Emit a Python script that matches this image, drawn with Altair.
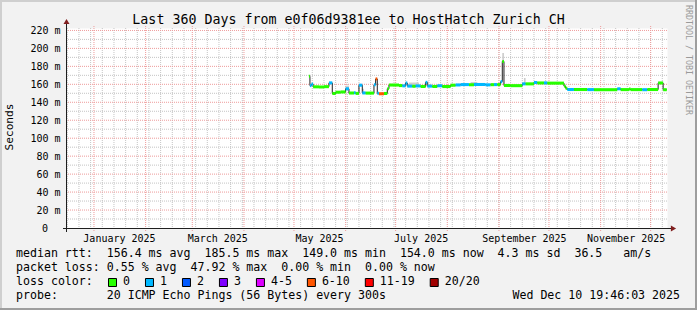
import altair as alt
import pandas as pd

# ---------------- data ----------------
seg_start = [
    "2025-05-10 00:00", "2025-05-10 14:00", "2025-05-11 12:00", "2025-05-12 12:00",
    "2025-05-16 00:00", "2025-05-19 00:00", "2025-05-22 00:00", "2025-05-24 00:00",
    "2025-05-26 00:00", "2025-05-29 00:00", "2025-06-01 00:00", "2025-06-03 00:00",
    "2025-06-06 00:00", "2025-06-07 00:00", "2025-06-09 00:00", "2025-06-11 00:00",
    "2025-06-13 00:00", "2025-06-18 00:00", "2025-06-19 00:00", "2025-06-20 00:00",
    "2025-06-21 00:00", "2025-06-24 00:00", "2025-06-26 00:00", "2025-06-27 00:00",
    "2025-07-03 00:00", "2025-07-05 00:00", "2025-07-07 00:00", "2025-07-08 00:00",
    "2025-07-11 00:00", "2025-07-13 00:00", "2025-07-16 00:00", "2025-07-19 00:00",
    "2025-07-20 00:00", "2025-07-23 00:00", "2025-07-26 00:00", "2025-07-29 00:00",
    "2025-08-03 00:00", "2025-08-06 00:00", "2025-08-09 00:00", "2025-08-14 00:00",
    "2025-08-17 00:00", "2025-08-24 00:00", "2025-08-27 00:00", "2025-08-29 00:00",
    "2025-08-31 00:00", "2025-09-02 00:00", "2025-09-03 00:00", "2025-09-04 00:00",
    "2025-09-08 00:00", "2025-09-15 00:00", "2025-09-17 00:00", "2025-09-22 00:00",
    "2025-09-24 00:00", "2025-09-28 00:00", "2025-09-30 00:00", "2025-10-10 00:00",
    "2025-10-11 00:00", "2025-10-12 00:00", "2025-10-16 00:00", "2025-10-24 00:00",
    "2025-10-28 00:00", "2025-11-11 00:00", "2025-11-13 00:00", "2025-11-18 00:00",
    "2025-11-19 00:00", "2025-11-26 00:00", "2025-11-29 00:00", "2025-12-05 12:00",
    "2025-12-08 12:00",
]
seg_median = [
    169.0, 158.6, 160.2, 157.2,
    157.0, 157.4, 161.6, 149.8,
    151.2, 151.5, 155.0, 150.3,
    150.6, 149.9, 159.0, 150.4,
    150.2, 159.5, 166.0, 150.0,
    149.5, 149.8, 155.0, 159.2,
    158.6, 158.3, 161.5, 158.0,
    157.8, 158.2, 157.6, 162.2,
    158.0, 157.6, 158.4, 157.5,
    159.0, 159.3, 159.7, 159.5,
    159.8, 159.4, 159.6, 159.7,
    159.7, 163.0, 185.5, 158.7,
    158.5, 160.5, 160.5, 162.0,
    161.5, 161.6, 161.3, 158.0,
    155.6, 154.2, 154.2, 154.1,
    154.0, 155.0, 154.1, 154.7,
    154.1, 154.0, 154.2, 161.5,
    154.0,
]
seg_loss = [
    "0", "1", "1", "0",
    "0", "0", "1", "0",
    "0", "0", "1", "0",
    "1", "0", "1", "1",
    "0", "1", "6-10", "1",
    "6-10", "0", "0", "0",
    "0", "1", "1", "1",
    "0", "1", "0", "1",
    "1", "0", "1", "0",
    "0", "1", "1", "0",
    "1", "1", "0", "1",
    "0", "1", "0", "0",
    "0", "1", "0", "1",
    "0", "1", "0", "0",
    "0", "1", "0", "1",
    "0", "1", "0", "0",
    "0", "1", "0", "0",
    "0",
]
series_end = "2025-12-10 17:00"

smoke_start = ["2025-06-01", "2025-06-11", "2025-07-09", "2025-07-19", "2025-08-15", "2025-09-03", "2025-09-16"]
smoke_end = ["2025-06-03", "2025-06-12", "2025-07-15", "2025-07-21", "2025-08-19", "2025-09-04", "2025-09-17"]
smoke_low = [155.0, 150.4, 158.0, 160.0, 159.8, 185.5, 160.5]
smoke_high = [158.5, 155.0, 162.0, 163.0, 162.5, 195.0, 167.0]

loss_labels = ["0", "1", "2", "3", "4-5", "6-10", "11-19", "20/20"]
loss_colors = ["#26ff00", "#00b8ff", "#0059ff", "#7e00ff", "#dd00ff", "#ff5500", "#ff0000", "#a10000"]

y_label_values = [20, 40, 60, 80, 100, 120, 140, 160, 180, 200, 220]
zero_label = "0"
y_major = [20, 40, 60, 80, 100, 120, 140, 160, 180, 200, 220]
y_minor = [10, 30, 50, 70, 90, 110, 130, 150, 170, 190, 210]
month_lines = ["2025-01-01", "2025-02-01", "2025-03-01", "2025-04-01", "2025-05-01", "2025-06-01",
               "2025-07-01", "2025-08-01", "2025-09-01", "2025-10-01", "2025-11-01", "2025-12-01"]
label_dates = ["2025-01-16", "2025-03-16", "2025-05-16", "2025-07-16", "2025-09-16", "2025-11-16"]
range_start = "2024-12-15 19:46:03"
range_end = "2025-12-10 19:46:03"

title_text = "Last 360 Days from e0f06d9381ee to HostHatch Zurich CH"
stats_rtt = "median rtt:  156.4 ms avg  185.5 ms max  149.0 ms min  154.0 ms now  4.3 ms sd  36.5   am/s"
stats_loss = "packet loss: 0.55 % avg  47.92 % max  0.00 % min  0.00 % now"
loss_title = "loss color:"
probe_text = "probe:       20 ICMP Echo Pings (56 Bytes) every 300s"
stamp_text = "Wed Dec 10 19:46:03 2025"
unit_text = "Seconds"
watermark = "RRDTOOL / TOBI OETIKER"

# ---------------- layout ----------------
W, H = 600, 200
OX, OY = 67, 28
MONO = "DejaVu Sans Mono"
NB = "\u00a0"


def ms(s):
    return int(pd.Timestamp(s).value // 1_000_000)


xs = alt.Scale(domain=[ms(range_start), ms(range_end)], nice=False, zero=False)
ys = alt.Scale(domain=[0, 222.7], nice=False, zero=False)

x_axis = alt.Axis(values=[ms(d) for d in label_dates], labelExpr="utcFormat(datum.value, '%B %Y')",
                  ticks=False, tickSize=0, domain=False, grid=False, labelFont=MONO, labelFontSize=10,
                  labelColor="#000000", labelPadding=5, labelOverlap=False, labelFlush=False, title=None)
y_axis = alt.Axis(values=y_label_values, labelExpr="datum.value + ' m'",
                  ticks=False, tickSize=0, domain=False, grid=False, labelFont=MONO, labelFontSize=10,
                  labelColor="#000000", labelPadding=7, labelOverlap=False, labelFlush=False, title=None)


def X(f):
    return alt.X(f, scale=xs, axis=x_axis)


def Y(f):
    return alt.Y(f, scale=ys, axis=y_axis)


def ptext(txt, x, y, size=11.6, align="left", angle=0, color="#000000"):
    return alt.Chart(pd.DataFrame({"s": [txt.replace(" ", NB)]})).mark_text(
        font=MONO, fontSize=size, align=align, baseline="middle", angle=angle, color=color
    ).encode(text="s:N", x=alt.value(x - OX), y=alt.value(y - OY))


def prect(x1, x2, y1, y2, color, stroke=None):
    kw = dict(color=color)
    if stroke:
        kw.update(stroke=stroke, strokeWidth=1)
    return alt.Chart(pd.DataFrame({"k": [0]})).mark_rect(**kw).encode(
        x=alt.value(x1 - OX), x2=alt.value(x2 - OX), y=alt.value(y1 - OY), y2=alt.value(y2 - OY)
    )


layers = []

# frame shading
layers.append(prect(0, 697, 0, 2, "#cfcfcf"))
layers.append(prect(0, 2, 0, 310, "#cfcfcf"))
layers.append(prect(695, 697, 0, 310, "#9e9e9e"))
layers.append(prect(0, 697, 308, 310, "#9e9e9e"))

# grid
MINOR = "#c4c4c4"
MAJOR = "#ee9a9a"
week_ms = [ms(d) for d in pd.date_range("2024-12-16", "2025-12-08", freq="7D")]
layers.append(alt.Chart(pd.DataFrame({"t": week_ms})).mark_rule(
    color=MINOR, strokeDash=[1, 1], strokeWidth=1).encode(
    x=X("t:Q"), y=alt.value(0), y2=alt.value(H)))
layers.append(alt.Chart(pd.DataFrame({"v": y_minor})).mark_rule(
    color=MINOR, strokeDash=[1, 1], strokeWidth=1).encode(y=Y("v:Q")))
layers.append(alt.Chart(pd.DataFrame({"t": [ms(d) for d in month_lines]})).mark_rule(
    color=MAJOR, strokeDash=[1, 1], strokeWidth=1).encode(
    x=X("t:Q"), y=alt.value(-2), y2=alt.value(H + 3)))
layers.append(alt.Chart(pd.DataFrame({"v": y_major})).mark_rule(
    color=MAJOR, strokeDash=[1, 1], strokeWidth=1).encode(y=Y("v:Q")))

# smoke
smoke_df = pd.DataFrame({"t": [ms(d) for d in smoke_start], "t2": [ms(d) for d in smoke_end],
                         "lo": smoke_low, "hi": smoke_high})
layers.append(alt.Chart(smoke_df).mark_rect(color="#cdcdcd").encode(
    x=X("t:Q"), x2="t2:Q", y=Y("lo:Q"), y2="hi:Q"))

# median line (black)
starts = [ms(d) for d in seg_start]
ends = starts[1:] + [ms(series_end)]
line_df = pd.DataFrame({"t": starts + [ms(series_end)], "v": seg_median + [seg_median[-1]]})
layers.append(alt.Chart(line_df).mark_line(interpolate="step-after", color="#202020", strokeWidth=1).encode(
    x=X("t:Q"), y=Y("v:Q")))

# loss coloured median segments
seg_df = pd.DataFrame({"t": starts, "t2": ends,
                       "lo": [v - 1.7 for v in seg_median], "hi": [v + 1.7 for v in seg_median],
                       "loss": seg_loss})
layers.append(alt.Chart(seg_df).mark_rect().encode(
    x=X("t:Q"), x2="t2:Q", y=Y("lo:Q"), y2="hi:Q",
    color=alt.Color("loss:N", scale=alt.Scale(domain=loss_labels, range=loss_colors), legend=None)))

# axis lines and arrows
AX = "#1f1f1f"
AR = "#801f1f"
k = pd.DataFrame({"k": [0]})
layers.append(alt.Chart(k).mark_rule(color=AX, strokeWidth=1).encode(
    x=alt.value(-4), x2=alt.value(W + 4), y=alt.value(H + 0.5)))
layers.append(alt.Chart(k).mark_rule(color=AX, strokeWidth=1).encode(
    x=alt.value(-0.5), y=alt.value(H + 4), y2=alt.value(-4)))
layers.append(alt.Chart(k).mark_point(shape="triangle-right", filled=True, color=AR, size=36, opacity=1).encode(
    x=alt.value(W + 6.5), y=alt.value(H + 0.5)))
layers.append(alt.Chart(k).mark_point(shape="triangle-up", filled=True, color=AR, size=36, opacity=1).encode(
    x=alt.value(-0.5), y=alt.value(-6.5)))

# texts
layers.append(ptext(zero_label, 45, 228.7, size=10, align="center"))
layers.append(ptext(title_text, 348.5, 19.5, size=13.3, align="center"))
layers.append(ptext(unit_text, 10, 127, size=11.2, align="center", angle=270))
layers.append(ptext(watermark, 687.5, 60, size=8.3, align="center", angle=90, color="#9a9a9a"))
layers.append(ptext(stats_rtt, 16, 254.3))
layers.append(ptext(stats_loss, 16, 268.3))
layers.append(ptext(loss_title, 16, 282.3))
layers.append(ptext(probe_text, 16, 296.3))
layers.append(ptext(stamp_text, 680, 296.3, align="right"))

CW = 0.602 * 11.6
sx = 108.5
for lab, col in zip(loss_labels, loss_colors):
    layers.append(prect(sx, sx + 8, 278.5, 286.5, col, stroke="#000000"))
    layers.append(ptext(lab, sx + 14.5, 282.3))
    sx += 14.5 + CW * len(lab) + 15.5

chart = alt.layer(*layers).properties(
    width=W, height=H,
    padding={"left": OX, "top": OY, "right": 697 - OX - W, "bottom": 310 - OY - H},
    autosize=alt.AutoSizeParams(type="none"),
    background="#f2f2f2",
).configure_view(fill="#ffffff", stroke="transparent")

chart.save("out.html", embed_options={"renderer": "svg", "actions": False})
